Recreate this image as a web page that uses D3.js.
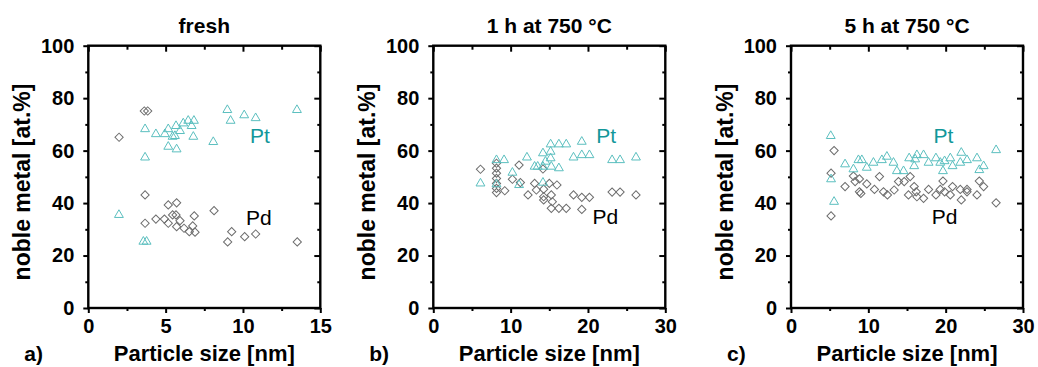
<!DOCTYPE html>
<html>
<head>
<meta charset="utf-8">
<script src="https://cdn.jsdelivr.net/npm/d3@7"></script>
<style>
  body{margin:0;background:#fff;}
  svg text{font-family:"Liberation Sans",Arial,sans-serif;}
</style>
</head>
<body>
<svg id="chart" width="1038" height="367"></svg>
<script>
// particle size [nm], noble metal [at.%]
var freshPt=[[1.98,35.5],[3.56,25.3],[3.77,25.3],[3.67,68.2],[3.67,57.4],[4.37,66.3],[4.95,66.3],[5.17,68.2],[5.17,61.5],[5.45,65.3],[5.6,65.6],[5.67,69.4],[5.71,60.5],[5.93,67.5],[6.14,70.4],[6.46,71.4],[6.83,71.4],[6.68,69.4],[6.79,65.3],[8.08,63.3],[8.99,75.5],[9.2,71.4],[10.08,73.5],[10.82,72.4],[13.49,75.5]];
var freshPd=[[1.99,65.1],[3.62,75.1],[3.84,75.1],[3.67,43.1],[5.17,39.3],[5.71,40.1],[3.67,32.3],[4.37,33.9],[4.92,33.9],[5.17,32.3],[5.45,35.5],[5.67,35.5],[5.71,31.0],[5.93,33.3],[6.19,30.4],[6.53,29.1],[6.75,31.3],[6.85,35.1],[6.9,28.9],[8.13,37.1],[9.01,25.2],[9.27,29.1],[10.11,27.2],[10.82,28.2],[13.51,25.2]];
var h1Pt=[[6.1,47.5],[8.17,56.4],[8.17,47.2],[9.15,56.4],[10.23,51.6],[11.09,46.9],[12.11,57.4],[13.1,53.9],[13.5,53.9],[14.18,59.0],[14.18,53.9],[14.5,55.8],[14.18,47.8],[15.17,62.4],[15.17,59.6],[15.17,57.1],[15.26,53.9],[16.24,62.4],[17.19,62.4],[16.24,53.3],[19.2,63.4],[18.13,57.4],[19.2,58.3],[20.19,58.3],[23.12,56.4],[24.15,56.4],[26.21,57.4]];
var h1Pd=[[6.1,52.9],[8.17,55.2],[8.17,53.3],[8.17,51.4],[8.17,49.4],[8.17,47.5],[8.17,45.6],[8.17,44.0],[9.24,44.7],[11.09,54.5],[10.23,49.1],[11.26,47.8],[12.25,43.1],[13.1,47.5],[13.33,45.0],[14.18,53.0],[14.27,45.3],[14.27,42.4],[14.27,41.2],[15.0,47.5],[15.99,46.9],[15.26,43.1],[15.39,40.5],[15.26,38.0],[16.24,38.0],[17.19,38.0],[18.13,43.1],[19.2,42.2],[20.19,42.2],[19.2,37.6],[23.12,44.2],[24.15,44.2],[26.21,43.1]];
var h5Pt=[[5.14,65.6],[5.18,49.1],[5.57,40.5],[6.99,54.8],[8.07,52.9],[8.72,56.4],[9.16,56.4],[9.8,53.5],[10.66,55.4],[11.75,56.4],[12.4,57.7],[13.25,55.4],[13.69,52.2],[14.55,52.2],[15.28,57.1],[16.06,56.7],[16.28,58.3],[17.14,58.3],[15.93,54.1],[17.79,55.4],[18.74,57.1],[19.3,55.4],[19.65,52.2],[19.86,56.0],[20.6,57.1],[20.89,54.1],[21.89,55.4],[22.02,59.2],[22.76,56.4],[24.05,57.1],[24.35,52.6],[24.91,54.1],[26.52,60.2]];
var h5Pd=[[5.57,60.0],[5.18,51.4],[5.18,35.1],[6.99,46.3],[8.07,50.3],[8.29,48.2],[8.85,49.2],[8.85,44.3],[9.03,43.7],[9.8,47.3],[10.79,45.2],[11.44,50.1],[11.96,44.3],[12.47,43.1],[13.34,45.0],[13.9,48.2],[14.64,48.2],[15.41,50.1],[15.19,43.1],[15.93,46.3],[16.19,44.3],[16.28,42.4],[17.14,41.8],[17.79,45.2],[18.74,43.1],[19.3,45.2],[19.65,48.4],[19.86,44.3],[20.6,43.1],[20.89,46.3],[21.89,45.2],[22.02,41.2],[22.76,45.2],[22.76,44.3],[24.05,43.1],[24.35,48.4],[24.91,46.3],[26.52,40.1]];

var titles=["fresh","1 h at 750 °C","5 h at 750 °C"];
var letters=["a)","b)","c)"];
var yTicks=[0,20,40,60,80,100], yMinor=[10,30,50,70,90];
var xTicksA=[0,5,10,15], xMinorA=[2.5,7.5,12.5];
var xTicksB=[0,10,20,30], xMinorB=[5,15,25];

var svg=d3.select("#chart");
var yTop=45.7, yBot=308, w=232;
var ptCol="#5bbfbf", ptText="#12979a", pdCol="#6e6e6e";

var panels=[
  {left:88.3, xmax:15, ticks:xTicksA, minor:xMinorA, pt:freshPt, pd:freshPd, ptLab:[10.45,62.9], pdLab:[10.2,31.6]},
  {left:433.3, xmax:30, ticks:xTicksB, minor:xMinorB, pt:h1Pt, pd:h1Pd, ptLab:[21.06,62.8], pdLab:[20.6,32.0]},
  {left:791, xmax:30, ticks:xTicksB, minor:xMinorB, pt:h5Pt, pd:h5Pd, ptLab:[18.43,62.8], pdLab:[18.2,32.0]}
];

var tri=d3.symbol(d3.symbolTriangle,34), dia=d3.symbol(d3.symbolSquare,34);

panels.forEach(function(p,i){
  var x=d3.scaleLinear().domain([0,p.xmax]).range([p.left,p.left+w]);
  var y=d3.scaleLinear().domain([0,100]).range([yBot,yTop]);
  var g=svg.append("g");

  function ax(gen,tr,vals,size,fmt){
    var a=g.append("g").attr("transform",tr)
      .call(gen.tickValues(vals).tickSize(size).tickSizeOuter(0).tickPadding(fmt?6:0).tickFormat(fmt||(function(){return "";})));
    a.select(".domain").remove();
    a.selectAll("line").attr("stroke","#000").attr("stroke-width",2);
    a.selectAll("text").attr("font-size",20).attr("font-weight","bold").attr("fill","#000");
    return a;
  }
  ax(d3.axisBottom(x),"translate(0,"+yBot+")",p.ticks,5,d3.format("d"));
  ax(d3.axisBottom(x),"translate(0,"+yBot+")",p.minor,3);
  ax(d3.axisLeft(y),"translate("+p.left+",0)",yTicks,5,d3.format("d")).selectAll("text").attr("dx",-3);
  ax(d3.axisLeft(y),"translate("+p.left+",0)",yMinor,3);
  ax(d3.axisTop(x),"translate(0,"+yTop+")",p.ticks,-6);
  ax(d3.axisTop(x),"translate(0,"+yTop+")",p.minor,-4);
  ax(d3.axisRight(y),"translate("+(p.left+w)+",0)",yTicks,-6);
  ax(d3.axisRight(y),"translate("+(p.left+w)+",0)",yMinor,-3);

  g.append("rect").attr("x",p.left).attr("y",yTop).attr("width",w).attr("height",yBot-yTop)
    .attr("fill","none").attr("stroke","#000").attr("stroke-width",2.4);

  g.selectAll(".pd").data(p.pd).enter().append("path")
    .attr("d",dia).attr("transform",function(d){return "translate("+x(d[0])+","+y(d[1])+") rotate(45)";})
    .attr("fill","none").attr("stroke",pdCol).attr("stroke-width",1);
  g.selectAll(".pt").data(p.pt).enter().append("path")
    .attr("d",tri).attr("transform",function(d){return "translate("+x(d[0])+","+y(d[1])+")";})
    .attr("fill","none").attr("stroke",ptCol).attr("stroke-width",1);

  g.append("text").attr("x",x(p.ptLab[0])).attr("y",y(p.ptLab[1])).attr("font-size",21).attr("fill",ptText).text("Pt");
  g.append("text").attr("x",x(p.pdLab[0])).attr("y",y(p.pdLab[1])).attr("font-size",21).attr("fill","#000").text("Pd");

  g.append("text").attr("x",p.left+w/2).attr("y",33).attr("text-anchor","middle")
    .attr("font-size",21).attr("font-weight","bold").text(titles[i]);
  g.append("text").attr("x",p.left+w/2).attr("y",361).attr("text-anchor","middle")
    .attr("font-size",22).attr("font-weight","bold").text("Particle size [nm]");
  g.append("text").attr("x",p.left-64).attr("y",361)
    .attr("font-size",21).attr("font-weight","bold").text(letters[i]);
  g.append("text").attr("transform","translate("+(p.left-58)+",182) rotate(-90)").attr("text-anchor","middle")
    .attr("font-size",23).attr("font-weight","bold").text("noble metal [at.%]");
});
</script>
</body>
</html>
